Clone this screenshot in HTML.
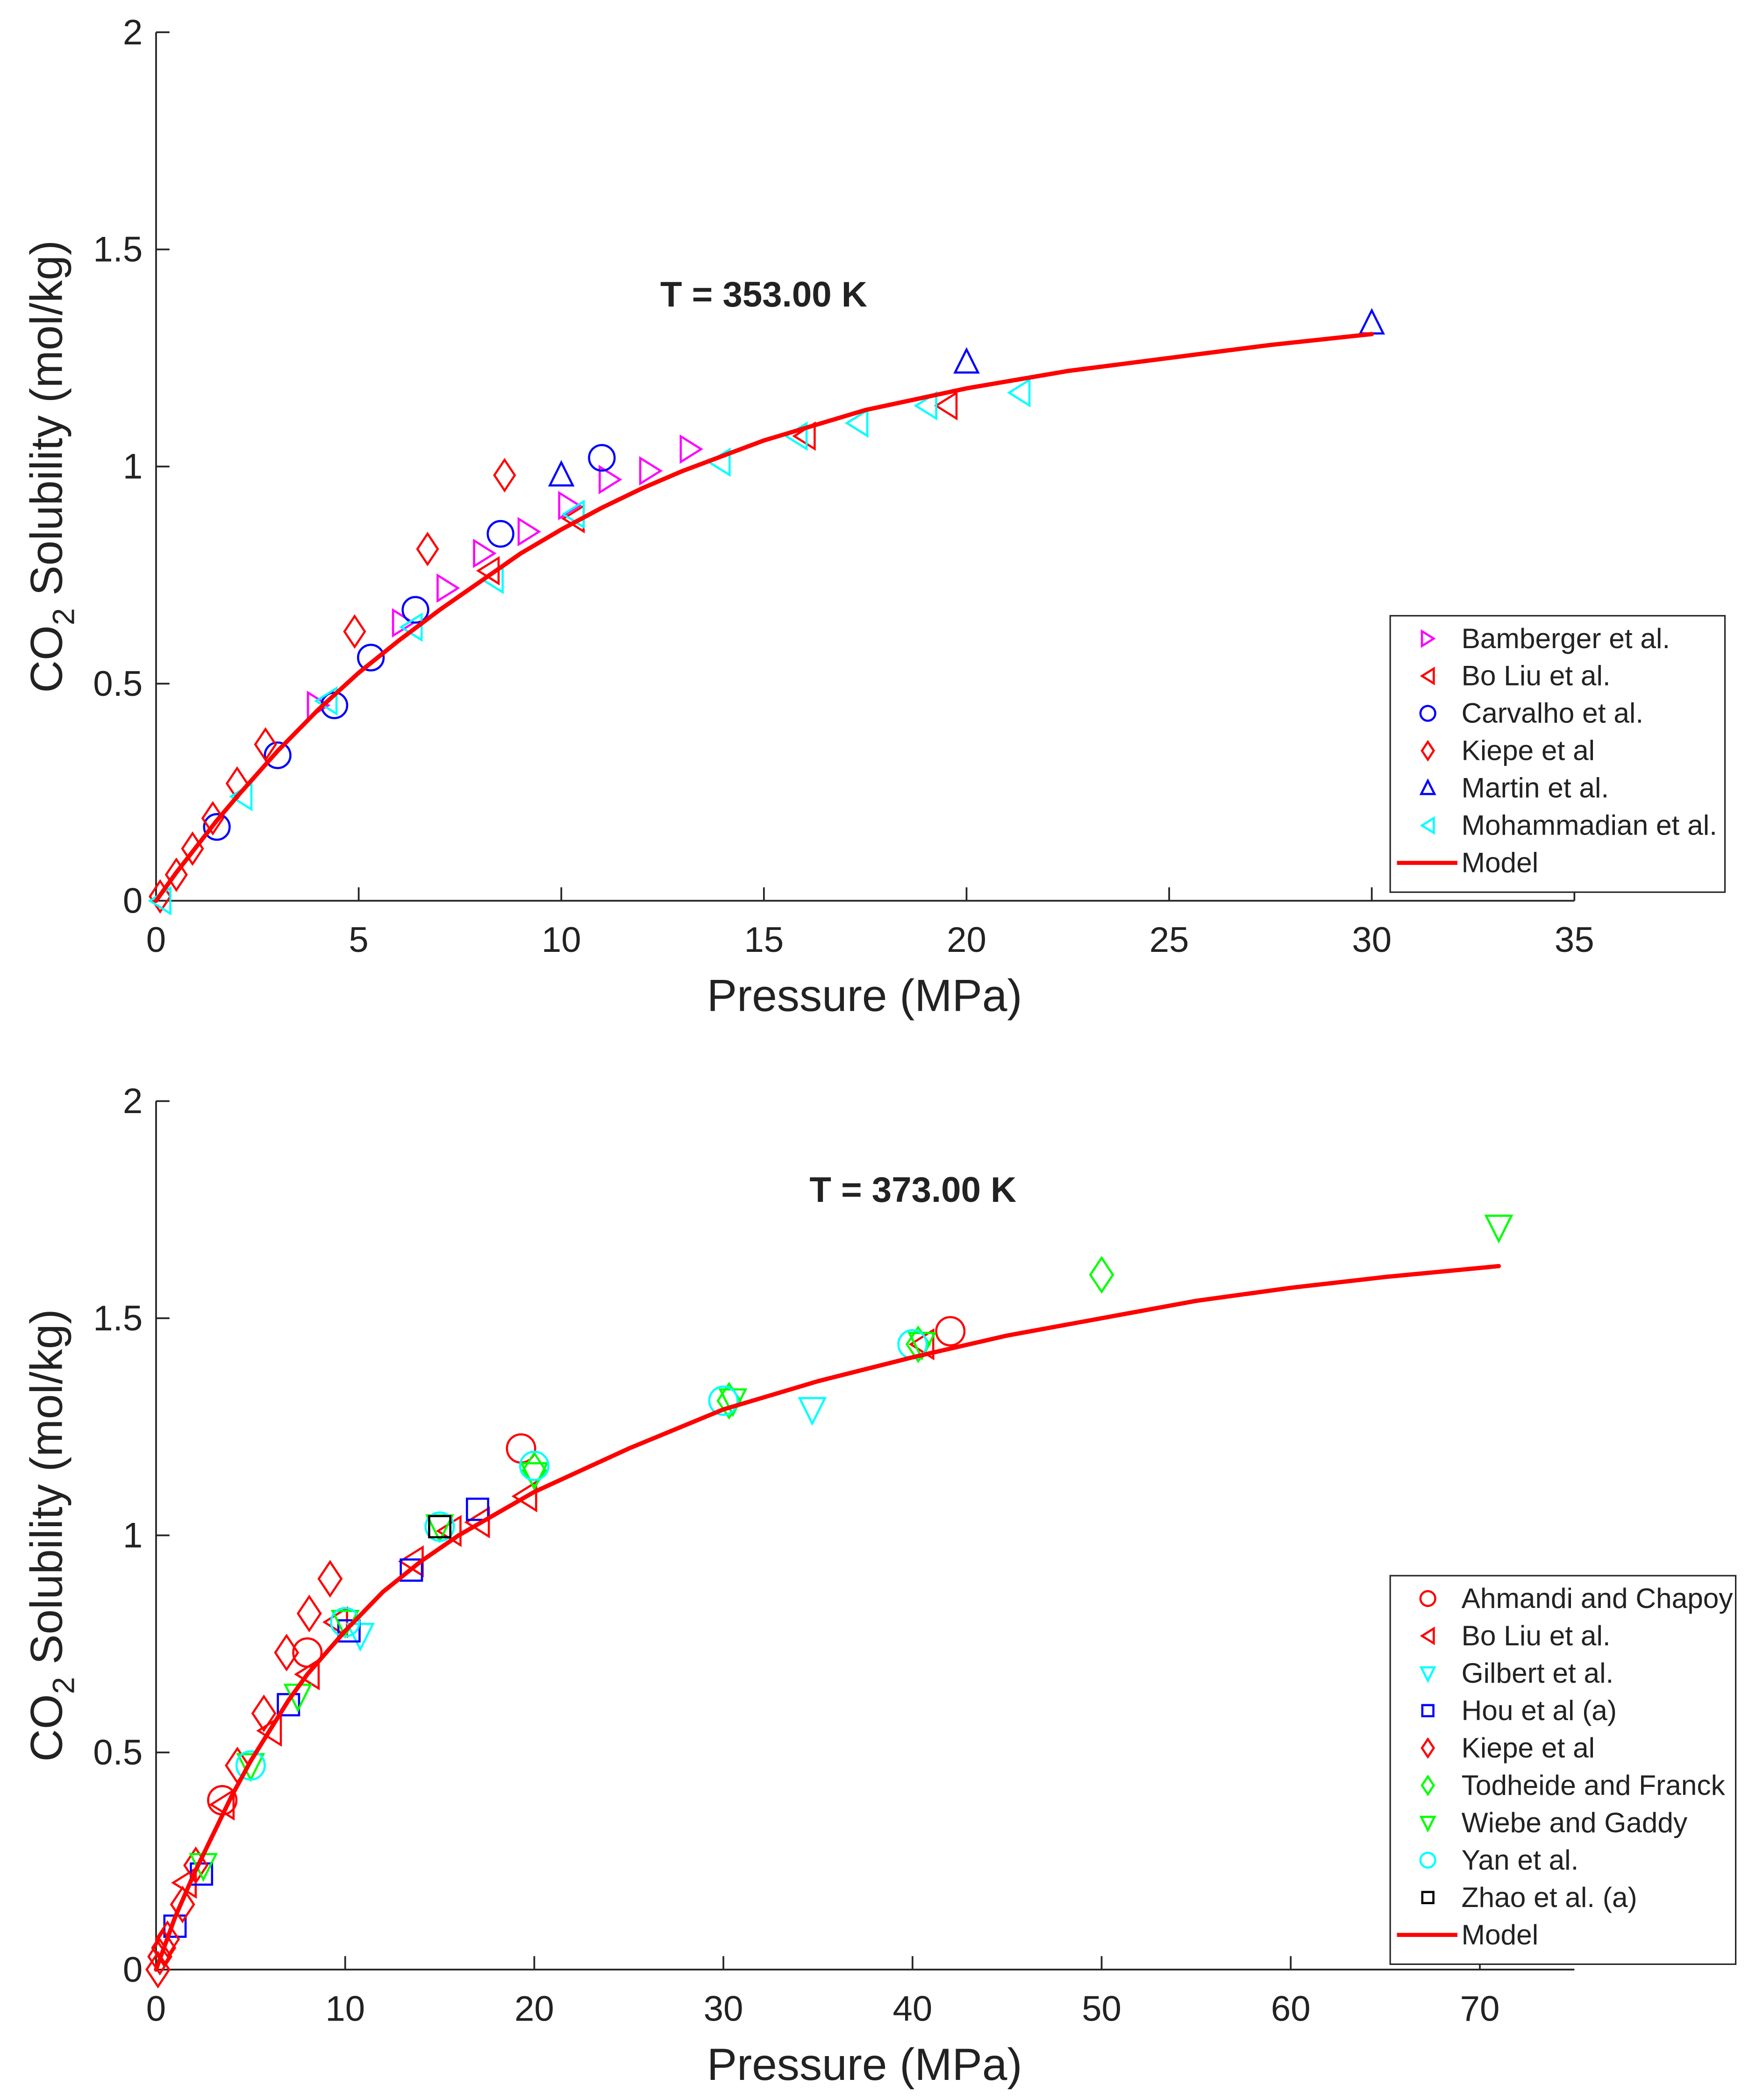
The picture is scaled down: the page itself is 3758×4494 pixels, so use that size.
<!DOCTYPE html>
<html><head><meta charset="utf-8"><style>
html,body{margin:0;padding:0;background:#fff}
svg{display:block}
text{font-family:"Liberation Sans",Arial,sans-serif;fill:#222}
</style></head><body>
<svg id="fig" width="3758" height="4494" viewBox="0 0 1306 1562" xmlns="http://www.w3.org/2000/svg"></svg>
<script>
// ---- Top chart data (T = 353 K)
const topBambergerP=[4,6.1,7.2,8.1,9.2,10.2,11.2,12.2,13.2];
const topBambergerS=[0.45,0.64,0.72,0.8,0.85,0.91,0.97,0.99,1.04];
const topBoLiuP=[8.2,10.3,16,17.3,19.5];
const topBoLiuS=[0.76,0.88,1.07,1.1,1.14];
const topCarvalhoP=[1.5,3,4.4,5.3,6.4,8.5,11];
const topCarvalhoS=[0.17,0.335,0.45,0.56,0.67,0.845,1.02];
const topKiepeP=[0.1,0.5,0.9,1.4,2,2.7,4.9,6.7,8.6];
const topKiepeS=[0.01,0.06,0.12,0.19,0.27,0.36,0.62,0.81,0.98];
const topMartinP=[10,20,30];
const topMartinS=[0.98,1.24,1.33];
const topMohP=[0.1,2.1,4.2,6.3,8.3,10.3,13.9,15.8,17.3,19,21.3];
const topMohS=[0,0.24,0.46,0.63,0.74,0.89,1.01,1.07,1.1,1.14,1.17];
const topModelP=[0,0.5,1,1.5,2,3,4,5,6,7,8,9,10,11,12,13,14,15,17.5,20,22.5,25,27.5,30];
const topModelS=[0,0.065,0.125,0.185,0.24,0.345,0.44,0.525,0.6,0.67,0.735,0.8,0.855,0.905,0.95,0.99,1.025,1.06,1.13,1.18,1.22,1.25,1.28,1.305];
const topXTicks=[0,5,10,15,20,25,30,35];
const yTicks=[0,0.5,1,1.5,2];
const yTickLabels=["0","0.5","1","1.5","2"];
// ---- Bottom chart data (T = 373 K)
const botAhmandiP=[3.5,8,19.3,42];
const botAhmandiS=[0.39,0.73,1.2,1.47];
const botBoLiuP=[1.5,3.5,6,8,9.5,13.5,15.5,17,19.5,40.5];
const botBoLiuS=[0.2,0.38,0.55,0.68,0.8,0.94,1.01,1.03,1.09,1.44];
const botGilbertP=[10.8,34.7];
const botGilbertS=[0.77,1.29];
const botHouP=[1,2.4,7,10.2,13.5,17];
const botHouS=[0.1,0.22,0.61,0.78,0.92,1.06];
const botKiepeP=[0.1,0.2,0.4,0.6,1.4,2.1,4.3,5.7,6.9,8.1,9.2];
const botKiepeS=[0,0.03,0.05,0.07,0.15,0.24,0.47,0.59,0.73,0.82,0.9];
const botTodP=[20,30.3,40.3,50];
const botTodS=[1.15,1.31,1.44,1.6];
const botWiebeP=[2.5,5,7.5,10,15,20,30.5,40.5,71];
const botWiebeS=[0.24,0.47,0.63,0.8,1.02,1.14,1.31,1.44,1.71];
const botYanP=[5,10,15,20,30,40];
const botYanS=[0.47,0.8,1.02,1.16,1.31,1.44];
const botZhaoP=[15];
const botZhaoS=[1.02];
const botModelP=[0,1,2,3,4,5,6,7,8,9,10,12,14,16,18,20,25,30,35,40,45,50,55,60,65,71];
const botModelS=[0,0.12,0.22,0.31,0.4,0.48,0.55,0.62,0.68,0.73,0.78,0.87,0.94,1.0,1.05,1.1,1.2,1.29,1.355,1.41,1.46,1.5,1.54,1.57,1.595,1.62];
const botXTicks=[0,10,20,30,40,50,60,70];

const NS="http://www.w3.org/2000/svg";
const svg=document.getElementById('fig');
function mk(tag,attrs,parent){const e=document.createElementNS(NS,tag);for(const k in attrs)e.setAttribute(k,attrs[k]);(parent||svg).appendChild(e);return e;}

function marker(g,shape,cx,cy,r,color){
  let e;
  if(shape==='o') e=mk('ellipse',{cx:cx,cy:cy,rx:r,ry:r,fill:'none',stroke:color,'stroke-width':1.6},g);
  else if(shape==='s') e=mk('rect',{x:cx-r*0.75,y:cy-r*0.75,width:r*1.5,height:r*1.5,fill:'none',stroke:color,'stroke-width':1.6},g);
  else {
    let pts;
    if(shape==='d') pts=[[0,-r*1.2],[r*0.8,0],[0,r*1.2],[-r*0.8,0]];
    else if(shape==='>') pts=[[-r*0.8,-r],[r*0.8,0],[-r*0.8,r]];
    else if(shape==='<') pts=[[r*0.8,-r],[-r*0.8,0],[r*0.8,r]];
    else if(shape==='^') pts=[[0,-r],[r*0.9,r*0.8],[-r*0.9,r*0.8]];
    else if(shape==='v') pts=[[0,r],[r*0.9,-r*0.8],[-r*0.9,-r*0.8]];
    e=mk('polygon',{points:pts.map(p=>(cx+p[0])+','+(cy+p[1])).join(' '),fill:'none',stroke:color,'stroke-width':1.6},g);
  }
  return e;
}

function chart(cfg){
  const g=mk('g',{});
  
  
  const X=v=>cfg.x0+(v-cfg.xmin)/(cfg.xmax-cfg.xmin)*(cfg.x1-cfg.x0);
  const Y=v=>cfg.y0-(v/2)*(cfg.y0-cfg.y1);
  const ax=mk('path',{d:`M${cfg.x0},${cfg.y1}V${cfg.y0}H${cfg.x1}`,fill:'none',stroke:'#262626','stroke-width':1.3},g);
  
  
  cfg.xticks.forEach(t=>{
    mk('line',{x1:X(t),x2:X(t),y1:cfg.y0,y2:cfg.y0-10,stroke:'#262626','stroke-width':1.3},g);
    const tx=mk('text',{x:X(t),y:cfg.y0+38,'text-anchor':'middle','font-size':26.5},g);
    tx.textContent=String(t);
    
    
  });
  yTicks.forEach((t,i)=>{
    mk('line',{x1:cfg.x0,x2:cfg.x0+10,y1:Y(t),y2:Y(t),stroke:'#262626','stroke-width':1.3},g);
    const tx=mk('text',{x:cfg.x0-10,y:Y(t)+9,'text-anchor':'end','font-size':26.5},g);
    tx.textContent=yTickLabels[i];
    
    
  });
  const xt=mk('text',{x:643,y:cfg.y0+82,'text-anchor':'middle','font-size':33.5},g);
  xt.textContent='Pressure (MPa)';
  
  
  const yc=(cfg.y0+cfg.y1)/2;
  const yt=mk('text',{x:0,y:0,'text-anchor':'middle','font-size':33.5,transform:`translate(46,${yc}) rotate(-90)`},g);
  yt.innerHTML='CO<tspan font-size="23" dy="9">2</tspan><tspan dy="-9"> Solubility (mol/kg)</tspan>';
  
  
  const tt=mk('text',{x:cfg.titleX,y:cfg.titleY,'text-anchor':'middle','font-size':26.5,'font-weight':'bold'},g);
  tt.textContent=cfg.title;
  
  
  cfg.series.forEach(s=>{
    const sg=mk('g',{},g);
    
    
    s.P.forEach((p,i)=>{
      const m=marker(sg,s.shape,X(p),Y(s.S[i]),cfg.r,s.color);
      
      
    });
  });
  const ml=mk('polyline',{points:cfg.modelP.map((p,i)=>X(p)+','+Y(cfg.modelS[i])).join(' '),fill:'none',stroke:'#ff0000','stroke-width':3.2,'stroke-linejoin':'round','stroke-linecap':'round'},g);
  
  
  const L=cfg.legend;
  const lg=mk('g',{},g);
  
  
  const n=cfg.series.length+1;
  mk('rect',{x:L.x,y:L.y,width:L.w,height:L.step*n+11,fill:'#fff',stroke:'#262626','stroke-width':1.1},lg);
  cfg.series.concat([{label:'Model',model:true}]).forEach((s,i)=>{
    const cy=L.y+17+i*L.step;
    const eg=mk('g',{},lg);
    
    
    if(s.model) mk('line',{x1:L.x+5,x2:L.x+50,y1:cy,y2:cy,stroke:'#ff0000','stroke-width':3},eg);
    else marker(eg,s.shape,L.x+28,cy,5.5,s.color);
    const t=mk('text',{x:L.x+53,y:cy+7,'font-size':21},eg);
    t.textContent=s.label;
  });
}

chart({name:'chart-353K',x0:116,x1:1171,xmin:0,xmax:35,y0:670,y1:24,xticks:topXTicks,r:9.5,
  title:'T = 353.00 K',titleX:568,titleY:228,modelP:topModelP,modelS:topModelS,
  legend:{x:1034,y:458,w:249,step:27.8},
  series:[
    {key:'bamberger',label:'Bamberger et al.',shape:'>',color:'#ff00ff',P:topBambergerP,S:topBambergerS},
    {key:'boliu',label:'Bo Liu et al.',shape:'<',color:'#ff0000',P:topBoLiuP,S:topBoLiuS},
    {key:'carvalho',label:'Carvalho et al.',shape:'o',color:'#0000ff',P:topCarvalhoP,S:topCarvalhoS},
    {key:'kiepe',label:'Kiepe et al',shape:'d',color:'#ff0000',P:topKiepeP,S:topKiepeS},
    {key:'martin',label:'Martin et al.',shape:'^',color:'#0000ff',P:topMartinP,S:topMartinS},
    {key:'mohammadian',label:'Mohammadian et al.',shape:'<',color:'#00ffff',P:topMohP,S:topMohS}
  ]});
chart({name:'chart-373K',x0:116,x1:1171,xmin:0,xmax:75,y0:1465,y1:819,xticks:botXTicks,r:10.5,
  title:'T = 373.00 K',titleX:679,titleY:894,modelP:botModelP,modelS:botModelS,
  legend:{x:1034,y:1172,w:257,step:27.8},
  series:[
    {key:'ahmandi',label:'Ahmandi and Chapoy',shape:'o',color:'#ff0000',P:botAhmandiP,S:botAhmandiS},
    {key:'boliu',label:'Bo Liu et al.',shape:'<',color:'#ff0000',P:botBoLiuP,S:botBoLiuS},
    {key:'gilbert',label:'Gilbert et al.',shape:'v',color:'#00ffff',P:botGilbertP,S:botGilbertS},
    {key:'hou',label:'Hou et al (a)',shape:'s',color:'#0000ff',P:botHouP,S:botHouS},
    {key:'kiepe',label:'Kiepe et al',shape:'d',color:'#ff0000',P:botKiepeP,S:botKiepeS},
    {key:'todheide',label:'Todheide and Franck',shape:'d',color:'#00ff00',P:botTodP,S:botTodS},
    {key:'wiebe',label:'Wiebe and Gaddy',shape:'v',color:'#00ff00',P:botWiebeP,S:botWiebeS},
    {key:'yan',label:'Yan et al.',shape:'o',color:'#00ffff',P:botYanP,S:botYanS},
    {key:'zhao',label:'Zhao et al. (a)',shape:'s',color:'#000000',P:botZhaoP,S:botZhaoS}
  ]});
</script>
</body></html>
